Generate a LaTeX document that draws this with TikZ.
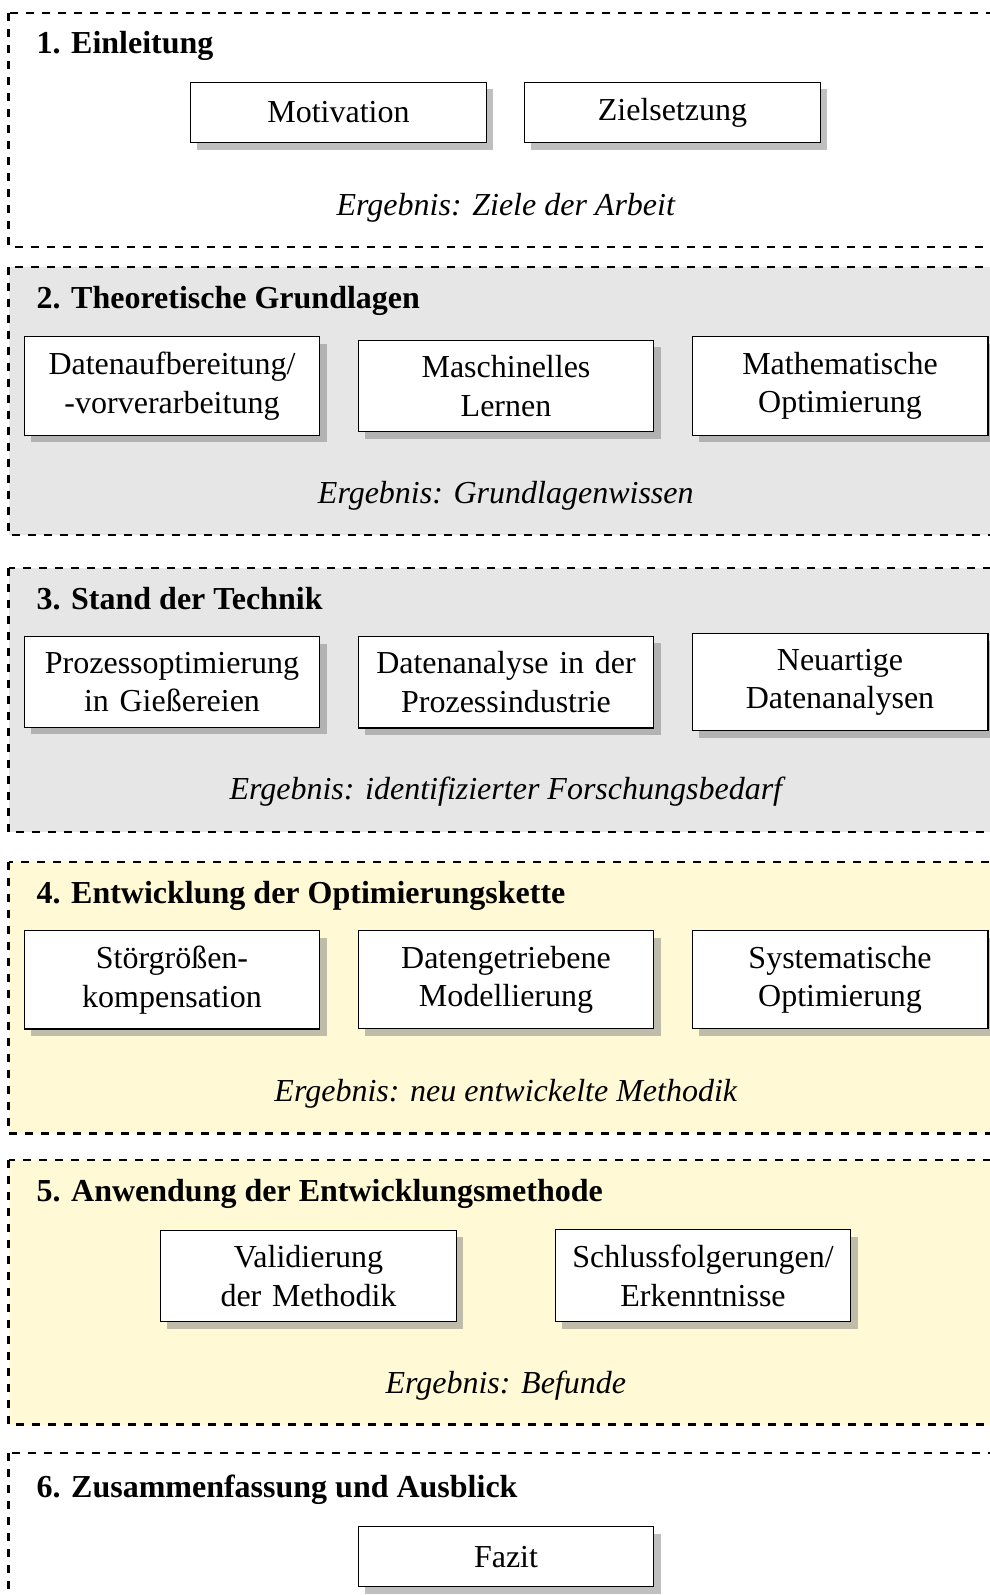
\documentclass[tikz,border=0pt]{standalone}
\usepackage{fontspec}
\setmainfont{Liberation Serif}
\usetikzlibrary{shadows}

\definecolor{palegray}{HTML}{E6E6E6}
\definecolor{paleyellow}{HTML}{FFF9D6}

\newcommand{\basefont}{\fontsize{12}{14.5}\selectfont}

\tikzset{
  chapter/.style={draw, dashed, line width=0.8pt},
  chaptitle/.style={anchor=base west, inner sep=0pt, font=\basefont\bfseries},
  result/.style={anchor=base, inner sep=0pt, font=\basefont\itshape},
  stepbox/.style={draw, fill=white, line width=0.4pt, text width=3.5cm,
    align=center, inner sep=0.2cm, minimum height=22.6pt, font=\basefont,
    drop shadow={shadow xshift=2.6pt, shadow yshift=-2.6pt,
      opacity=.5, fill=black!50}},
}

\begin{document}
\begin{tikzpicture}[x=0.375pt, y=-0.375pt]
\useasboundingbox (0,0) rectangle (990,1595);
\begin{scope}
\clip (0,0) rectangle (990,1595);

% chapter frames
\draw[chapter] (8.5,13) rectangle (1003,247);
\draw[chapter, fill=palegray] (8.5,266.6) rectangle (1003,535.2);
\draw[chapter, fill=palegray] (8.5,567.8) rectangle (1003,832.3);
\draw[chapter, fill=paleyellow] (8.5,861.8) rectangle (1003,1133.5);
\draw[chapter, fill=paleyellow] (8.5,1160) rectangle (1003,1424.5);
\draw[chapter] (8.5,1453) rectangle (1003,1640);

% 1. Einleitung
\node[chaptitle] (t1) at (36,53.6) {1. Einleitung};
\node[stepbox] (motiv) at (338.5,112.5) {Motivation};
\node[stepbox] (ziel) at (672.5,112.5) {Zielsetzung};
\node[result] (r1) at (505.8,215) {Ergebnis: Ziele der Arbeit};

% 2. Theoretische Grundlagen
\node[chaptitle] (t2) at (36,308.1) {2. Theoretische Grundlagen};
\node[stepbox] (daten) at (172,386) {Datenaufbereitung/\\-vorverarbeitung};
\node[stepbox] (ml) at (506,386) {Maschinelles\\Lernen};
\node[stepbox] (matopt) at (840,386) {Mathematische\\Optimierung};
\node[result] (r2) at (505.8,503.5) {Ergebnis: Grundlagenwissen};

% 3. Stand der Technik
\node[chaptitle] (t3) at (36,609.3) {3. Stand der Technik};
\node[stepbox] (giess) at (172,682.2) {Prozessoptimierung\\in Gießereien};
\node[stepbox] (pind) at (506,682.2) {Datenanalyse in der\\Prozessindustrie};
\node[stepbox] (neu) at (840,682.2) {Neuartige\\Datenanalysen\vphantom{g}};
\node[result] (r3) at (505.8,799.5) {Ergebnis: identifizierter Forschungsbedarf};

% 4. Entwicklung der Optimierungskette
\node[chaptitle] (t4) at (36,903.4) {4. Entwicklung der Optimierungskette};
\node[stepbox] (stoer) at (172,979.8) {Störgrößen-\\kompensation};
\node[stepbox] (model) at (506,979.8) {Datengetriebene\\Modellierung};
\node[stepbox] (sysopt) at (840,979.8) {Systematische\\Optimierung};
\node[result] (r4) at (505.8,1101.4) {Ergebnis: neu entwickelte Methodik};

% 5. Anwendung der Entwicklungsmethode
\node[chaptitle] (t5) at (36,1201.6) {5. Anwendung der Entwicklungsmethode};
\node[stepbox] (valid) at (308.5,1275.8) {Validierung\\der Methodik};
\node[stepbox] (schluss) at (703,1275.8) {Schlussfolgerungen/\\Erkenntnisse};
\node[result] (r5) at (505.8,1393) {Ergebnis: Befunde};

% 6. Zusammenfassung und Ausblick
\node[chaptitle] (t6) at (36,1497.1) {6. Zusammenfassung und Ausblick};
\node[stepbox] (fazit) at (506,1556.7) {Fazit};
\end{scope}
\end{tikzpicture}
\end{document}
